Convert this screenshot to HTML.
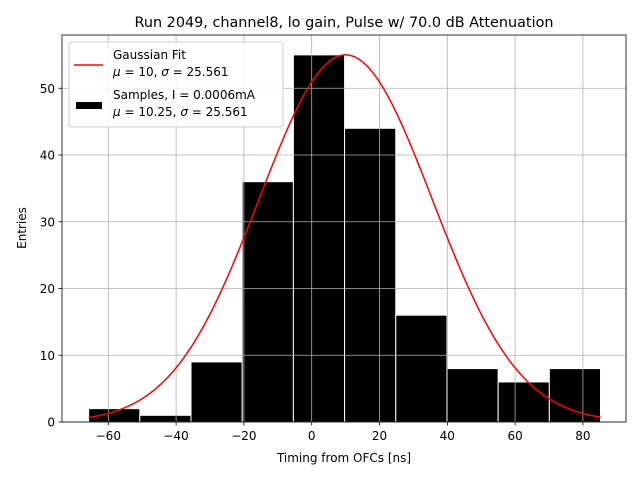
<!DOCTYPE html>
<html><head><meta charset="utf-8"><style>
body{margin:0;background:#fff;}
svg text{font-family:"DejaVu Sans","Liberation Sans",sans-serif;}
</style></head><body>
<svg id="chart" width="640" height="480" xmlns="http://www.w3.org/2000/svg">
<rect width="640" height="480" fill="#fff"/>
<text x="344" y="27" font-size="14.4" text-anchor="middle">Run 2049, channel8, lo gain, Pulse w/ 70.0 dB Attenuation</text>
<g id="bars"></g>
<g id="grid"></g>
<path id="fit" fill="none" stroke="#ff0000" stroke-width="1.5"/>
<rect x="62" y="35" width="564" height="387" fill="none" stroke="#000" stroke-width="0.8"/>
<g id="ticks"></g>
<text x="344" y="462" font-size="12" text-anchor="middle">Timing from OFCs [ns]</text>
<text transform="translate(26,228) rotate(-90)" font-size="12" text-anchor="middle">Entries</text>
<g>
<rect x="69" y="42" width="214" height="85" rx="3" fill="#fff" fill-opacity="0.8" stroke="#ccc"/>
<line x1="74" y1="65" x2="103" y2="65" stroke="#ff0000" stroke-width="1.5"/>
<text x="113" y="59" font-size="12">Gaussian Fit</text>
<text x="113" y="76" font-size="12"><tspan font-style="italic">μ</tspan> = 10, <tspan font-style="italic">σ</tspan> = 25.561</text>
<rect x="76" y="102" width="26" height="7" fill="#000"/>
<text x="113" y="99" font-size="12">Samples, I = 0.0006mA</text>
<text x="113" y="116" font-size="12"><tspan font-style="italic">μ</tspan> = 10.25, <tspan font-style="italic">σ</tspan> = 25.561</text>
</g>
</svg>
<script>
const binEdges=[-65.8,-50.7,-35.6,-20.5,-5.4,9.7,24.8,39.9,55.0,70.1,85.2];
const counts=[2,1,9,36,55,44,16,8,6,8];
const xTicks=[-60,-40,-20,0,20,40,60,80];
const yTicks=[0,10,20,30,40,50];
const fitMu=10, fitSigma=25.561, fitAmp=55;
const X=v=>311.7+v*3.39;
const Y=v=>422-v*6.675;
const NS="http://www.w3.org/2000/svg";
function mk(tag,attrs,parent){const e=document.createElementNS(NS,tag);for(const k in attrs)e.setAttribute(k,attrs[k]);parent.appendChild(e);return e;}
const grid=document.getElementById('grid'),bars=document.getElementById('bars'),ticks=document.getElementById('ticks');
xTicks.forEach(t=>{
 const g=mk('line',{x1:X(t),x2:X(t),y1:35,y2:422,stroke:'#b0b0b0','stroke-width':0.8},grid);
 
 
 mk('line',{x1:X(t),x2:X(t),y1:422,y2:425.5,stroke:'#000','stroke-width':0.8},ticks);
 const l=mk('text',{x:X(t),y:440,'font-size':12,'text-anchor':'middle'},ticks);
 l.textContent=t<0?'−'+(-t):t;
 
 
});
yTicks.forEach(t=>{
 const g=mk('line',{x1:62,x2:626,y1:Y(t),y2:Y(t),stroke:'#b0b0b0','stroke-width':0.8},grid);
 
 
 mk('line',{x1:58.5,x2:62,y1:Y(t),y2:Y(t),stroke:'#000','stroke-width':0.8},ticks);
 const l=mk('text',{x:55,y:Y(t)+4.5,'font-size':12,'text-anchor':'end'},ticks);
 l.textContent=t;
 
 
});
counts.forEach((c,i)=>{
 const r=mk('rect',{x:X(binEdges[i]),y:Y(c),width:X(binEdges[i+1])-X(binEdges[i]),height:422-Y(c),fill:'#000',stroke:'#fff','stroke-width':1},bars);
 
 
});
let d='';
const x0=binEdges[0],x1=binEdges[binEdges.length-1];
for(let i=0;i<=200;i++){const x=x0+(x1-x0)*i/200;const y=fitAmp*Math.exp(-0.5*((x-fitMu)/fitSigma)**2);d+=(i?'L':'M')+X(x).toFixed(2)+','+Y(y).toFixed(2);}
document.getElementById('fit').setAttribute('d',d);
</script>
</body></html>
